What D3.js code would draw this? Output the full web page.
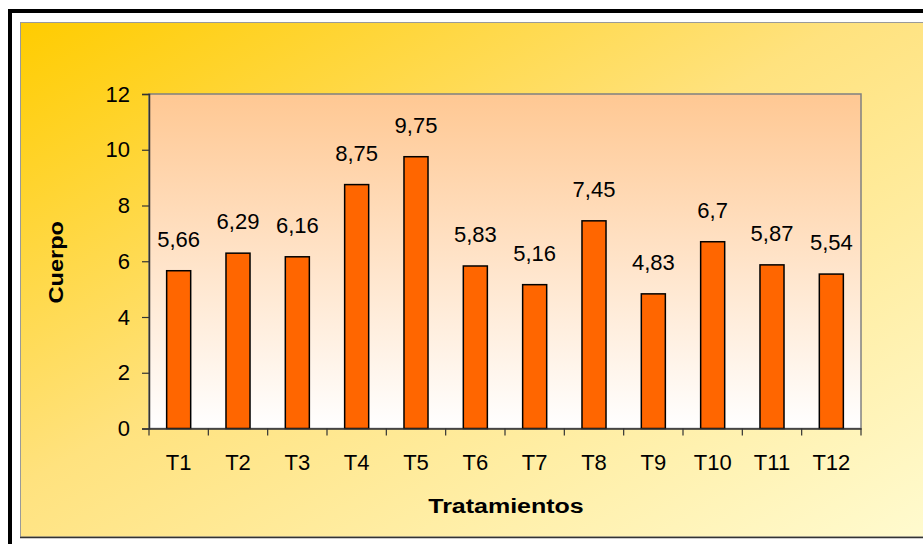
<!DOCTYPE html>
<html>
<head>
<meta charset="utf-8">
<script src="https://cdn.jsdelivr.net/npm/d3@7"></script>
<style>
  html, body { margin: 0; padding: 0; background: #ffffff; }
  svg { display: block; }
  text { font-family: "Liberation Sans", Arial, sans-serif; }
</style>
</head>
<body>
<svg id="chart" width="923" height="544"></svg>
<script>
const categories = ["T1","T2","T3","T4","T5","T6","T7","T8","T9","T10","T11","T12"];
const values = [5.66, 6.29, 6.16, 8.75, 9.75, 5.83, 5.16, 7.45, 4.83, 6.7, 5.87, 5.54];
const valueLabels = ["5,66","6,29","6,16","8,75","9,75","5,83","5,16","7,45","4,83","6,7","5,87","5,54"];
const yTicks = [0, 2, 4, 6, 8, 10, 12];
const yTitle = "Cuerpo";
const xTitle = "Tratamientos";

const FS = 22;      // font size of tick and value labels

const svg = d3.select("#chart");
const defs = svg.append("defs");

const panelGrad = defs.append("linearGradient").attr("id", "panelGrad")
  .attr("x1", "0").attr("y1", "0").attr("x2", "1").attr("y2", "1");
panelGrad.append("stop").attr("offset", "0%").attr("stop-color", "#FFCC00");
panelGrad.append("stop").attr("offset", "45%").attr("stop-color", "#FFE27E");
panelGrad.append("stop").attr("offset", "100%").attr("stop-color", "#FFFBD0");

const plotGrad = defs.append("linearGradient").attr("id", "plotGrad")
  .attr("x1", "0").attr("y1", "0").attr("x2", "0").attr("y2", "1");
plotGrad.append("stop").attr("offset", "0%").attr("stop-color", "#FFC893");
plotGrad.append("stop").attr("offset", "100%").attr("stop-color", "#FFFFFF");

// outer black frame
svg.append("rect").attr("x", 10).attr("y", 11).attr("width", 930).attr("height", 540)
  .attr("fill", "#ffffff").attr("stroke", "#000000").attr("stroke-width", 4);

// panel
svg.append("rect").attr("x", 20.5).attr("y", 22.5).attr("width", 920).attr("height", 514.5)
  .attr("fill", "url(#panelGrad)").attr("stroke", "#9a9a9a").attr("stroke-width", 1);
svg.append("line").attr("x1", 20).attr("x2", 923).attr("y1", 537.5).attr("y2", 537.5)
  .attr("stroke", "#333333").attr("stroke-width", 1.5);

const plot = { left: 149, right: 861, top: 94, bottom: 428.5 };

const x = d3.scaleBand().domain(categories).range([plot.left, plot.right]).paddingInner(0).paddingOuter(0);
const y = d3.scaleLinear().domain([0, 12]).range([plot.bottom, plot.top]);

// plot area
svg.append("rect").attr("x", plot.left).attr("y", plot.top)
  .attr("width", plot.right - plot.left).attr("height", plot.bottom - plot.top)
  .attr("fill", "url(#plotGrad)").attr("stroke", "#808080").attr("stroke-width", 1.5);

// bars
const barW = x.bandwidth() * 0.405;
svg.append("g").selectAll("rect").data(values).join("rect")
  .attr("x", (d, i) => x(categories[i]) + x.bandwidth() / 2 - barW / 2)
  .attr("y", d => y(d))
  .attr("width", barW)
  .attr("height", d => y(0) - y(d))
  .attr("fill", "#FF6600").attr("stroke", "#000000").attr("stroke-width", 1.5);

// value labels
svg.append("g").selectAll("text").data(values).join("text")
  .attr("x", (d, i) => x(categories[i]) + x.bandwidth() / 2)
  .attr("y", d => y(d) - 24)
  .attr("text-anchor", "middle")
  .attr("font-size", FS)
  .attr("fill", "#000")
  .text((d, i) => valueLabels[i]);

// y axis
const yAxis = d3.axisLeft(y).tickValues(yTicks).tickSize(7).tickPadding(12).tickFormat(d3.format("d"));
const gy = svg.append("g").attr("transform", `translate(${plot.left},0)`).call(yAxis);
gy.select(".domain").attr("stroke", "#333333").attr("stroke-width", 1.5);
gy.selectAll(".tick line").attr("stroke", "#333333").attr("stroke-width", 1.2);
gy.selectAll(".tick text").attr("font-size", FS).attr("fill", "#000")
  .attr("font-family", "'Liberation Sans', Arial, sans-serif");

// x axis
const xAxis = d3.axisBottom(x).tickSize(0).tickPadding(26);
const gx = svg.append("g").attr("transform", `translate(0,${plot.bottom})`).call(xAxis);
gx.select(".domain").attr("stroke", "#333333").attr("stroke-width", 1.5);
gx.selectAll(".tick text").attr("font-size", FS).attr("fill", "#000")
  .attr("font-family", "'Liberation Sans', Arial, sans-serif");
// boundary ticks
const bounds = categories.map(c => x(c)).concat([plot.right]);
gx.append("g").selectAll("line").data(bounds).join("line")
  .attr("x1", d => d).attr("x2", d => d).attr("y1", 0).attr("y2", 7)
  .attr("stroke", "#333333").attr("stroke-width", 1.2);

// titles (wide bold lettering)
svg.append("text")
  .attr("transform", `translate(${(plot.left + plot.right) / 2 + 1},512.5) scale(1.25,1)`)
  .attr("text-anchor", "middle").attr("font-size", 20).attr("font-weight", "bold")
  .attr("fill", "#000").text(xTitle);

svg.append("text")
  .attr("transform", `translate(63,${(plot.top + plot.bottom) / 2 + 1}) rotate(-90) scale(1.15,1)`)
  .attr("text-anchor", "middle").attr("font-size", 20.5).attr("font-weight", "bold")
  .attr("fill", "#000").text(yTitle);
</script>
</body>
</html>
